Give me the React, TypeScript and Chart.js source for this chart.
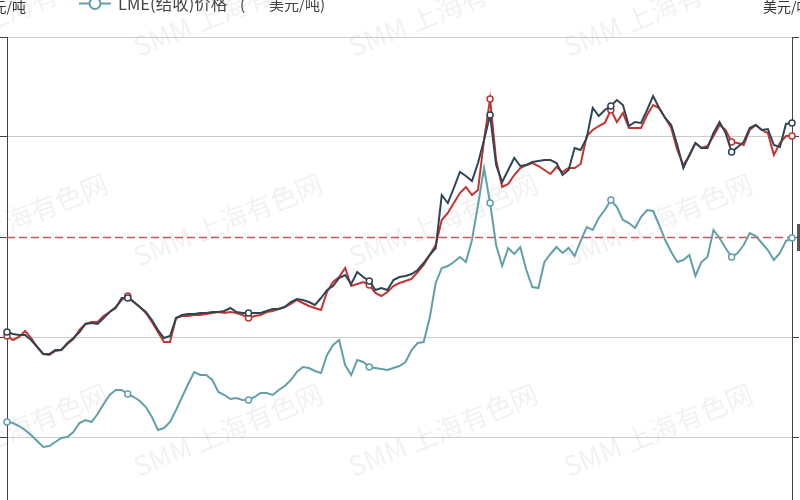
import React, { useEffect, useRef } from 'react';
import { Chart, registerables } from 'chart.js';

Chart.register(...registerables);

// ---- data ----
const CATEGORIES: string[] = Array.from({ length: 131 }, (_, i) => `W${i + 1}`);

// SHFE price (元/吨) - red
const SHFE_PRICE = [
  30100, 29700, 30000, 30600, 29900, 29000, 28300, 28200, 28600, 28700,
  29300, 29800, 30700, 31300, 31500, 31500, 32100, 32500, 33000, 33700,
  34100, 33500, 33000, 32400, 31500, 30500, 29500, 29500, 31900, 32100,
  32100, 32200, 32200, 32300, 32400, 32500, 32400, 32500, 32400, 32200,
  31900, 32100, 32200, 32500, 32600, 32800, 33000, 33300, 33700, 33400,
  33100, 32900, 32700, 34500, 35500, 36000, 36900, 35100, 35300, 35500,
  35200, 34400, 34100, 34500, 35100, 35400, 35600, 35800, 36500, 37200,
  38200, 39200, 41700, 42400, 43400, 44400, 45000, 44200, 44700, 49700,
  53800, 47700, 45000, 45300, 46200, 46900, 47200, 47400, 47100, 46700,
  46300, 47000, 46500, 46900, 46900, 47300, 50100, 50700, 51100, 51400,
  52700, 51500, 52400, 50900, 50900, 50900, 52200, 53200, 52900, 51900,
  50900, 48700, 47200, 48100, 49400, 48900, 49100, 50100, 51200, 50700,
  49500, 49400, 49200, 50700, 51200, 50700, 50400, 48200, 49400, 50100,
  50100,
];

// Spot price (元/吨) - dark
const SPOT_PRICE = [
  30500, 30300, 30200, 30200, 29700, 29000, 28300, 28300, 28700, 28700,
  29400, 29900, 30500, 31300, 31400, 31300, 31900, 32500, 32900, 33900,
  33900, 33500, 33000, 32500, 31700, 30700, 29900, 30100, 31900, 32200,
  32300, 32300, 32400, 32400, 32500, 32500, 32600, 32900, 32500, 32400,
  32400, 32400, 32400, 32600, 32800, 32800, 33000, 33500, 33800, 33700,
  33500, 33200, 33900, 34700, 35100, 35900, 36200, 35300, 36500, 36000,
  35600, 34700, 34900, 34700, 35700, 36000, 36100, 36300, 36700, 37400,
  38200, 38900, 44200, 43400, 44900, 46500, 46100, 45600, 47400, 49700,
  52200, 47200, 45500, 46700, 47900, 47100, 47200, 47500, 47600, 47700,
  47700, 47400, 46200, 46700, 48900, 48700, 49900, 52900, 52100, 52700,
  53100, 53700, 53200, 51100, 51500, 51400, 52700, 54100, 52900, 51900,
  51200, 49200, 46900, 48200, 49400, 48900, 48900, 50400, 51500, 50400,
  48500, 49000, 49500, 50900, 51200, 50700, 50800, 49200, 49000, 51300,
  51400,
];

// LME price (美元/吨) - teal
const LME_PRICE = [
  2150, 2140, 2110, 2070, 2020, 1960, 1900, 1910, 1950, 1990,
  2000, 2050, 2140, 2170, 2150, 2230, 2330, 2420, 2470, 2470,
  2430, 2400, 2360, 2300, 2200, 2070, 2090, 2150, 2270, 2400,
  2530, 2650, 2620, 2620, 2570, 2450, 2420, 2380, 2390, 2370,
  2370, 2400, 2440, 2440, 2420, 2470, 2510, 2570, 2650, 2700,
  2690, 2660, 2640, 2820, 2920, 2970, 2720, 2620, 2770, 2750,
  2700, 2690, 2680, 2670, 2690, 2710, 2750, 2870, 2940, 2950,
  3190, 3540, 3690, 3710, 3750, 3800, 3750, 3970, 4320, 4690,
  4340, 3920, 3710, 3890, 3830, 3900, 3670, 3500, 3490, 3750,
  3830, 3900, 3840, 3890, 3810, 3960, 4100, 4070, 4190, 4270,
  4370, 4300, 4170, 4140, 4090, 4200, 4270, 4260, 4120, 3970,
  3850, 3750, 3770, 3820, 3610, 3750, 3800, 4070, 3990, 3890,
  3800, 3840, 3920, 4040, 4010, 3940, 3870, 3770, 3840, 3960,
  3990,
];

const LEFT_AXIS_TICKS = [10000, 20000, 30000, 40000, 50000, 60000];
const RIGHT_AXIS_TICKS = [1000, 2000, 3000, 4000, 5000, 6000];
const MARK_LINE_VALUE = 40000;

const LEGEND_NAME = 'LME(结收)价格';
const LEGEND_OPEN = '(';
const LEGEND_UNIT = '美元/吨)';
const LEGEND_LABEL = `${LEGEND_NAME} ${LEGEND_OPEN} ${LEGEND_UNIT}`;
const LEFT_AXIS_NAME = '元/吨';
const RIGHT_AXIS_NAME = '美元/吨';
const WATERMARK = 'SMM 上海有色网';

const RED = '#c23531';
const DARK = '#2f4554';
const TEAL = '#61a0a8';
const CJK = '"Noto Sans CJK SC", "Noto Sans", sans-serif';

const decorPlugin = {
  id: 'decor',
  beforeDraw(chart: any) {
    const { ctx, width, height } = chart;
    ctx.save();
    ctx.fillStyle = '#ffffff';
    ctx.fillRect(0, 0, width, height);
    ctx.restore();
  },
  beforeDatasetsDraw(chart: any) {
    const { ctx, chartArea } = chart;
    // watermarks
    ctx.save();
    ctx.font = `27px ${CJK}`;
    ctx.fillStyle = 'rgba(0,0,0,0.055)';
    ctx.textAlign = 'center';
    ctx.textBaseline = 'middle';
    const xs = [13, 228, 443, 658];
    const ys = [10, 220, 430];
    for (const wy of ys) {
      for (const wx of xs) {
        ctx.save();
        ctx.translate(wx, wy);
        ctx.rotate((-22 * Math.PI) / 180);
        ctx.fillText(WATERMARK, 0, 0);
        ctx.restore();
      }
    }
    ctx.restore();
    // mark line
    const y = Math.round(chart.scales.y.getPixelForValue(MARK_LINE_VALUE)) + 0.5;
    ctx.save();
    ctx.strokeStyle = '#c9575a';
    ctx.lineWidth = 1.3;
    ctx.setLineDash([8, 4]);
    ctx.beginPath();
    ctx.moveTo(chartArea.left, y);
    ctx.lineTo(chartArea.right, y);
    ctx.stroke();
    ctx.restore();
  },
  afterDraw(chart: any) {
    const { ctx } = chart;
    ctx.save();
    // axis names
    ctx.fillStyle = '#333';
    ctx.font = `14px ${CJK}`;
    ctx.textBaseline = 'alphabetic';
    ctx.textAlign = 'right';
    ctx.fillText(LEFT_AXIS_NAME, 26, 12);
    ctx.textAlign = 'left';
    ctx.fillText(RIGHT_AXIS_NAME, 763, 12);
    // legend item
    ctx.strokeStyle = TEAL;
    ctx.lineWidth = 2;
    ctx.beginPath();
    ctx.moveTo(79, 3.5);
    ctx.lineTo(111, 3.5);
    ctx.stroke();
    ctx.beginPath();
    ctx.arc(95, 3.5, 5.5, 0, Math.PI * 2);
    ctx.fillStyle = '#fff';
    ctx.fill();
    ctx.stroke();
    ctx.fillStyle = '#444';
    ctx.textAlign = 'left';
    ctx.font = `16.5px ${CJK}`;
    ctx.fillText(LEGEND_NAME, 118, 9.5);
    ctx.font = `15px ${CJK}`;
    ctx.fillText(LEGEND_OPEN, 240, 9.5);
    ctx.fillText(LEGEND_UNIT, 269, 9.5);
    // small dark block at right edge
    ctx.fillStyle = '#555';
    ctx.fillRect(797, 224, 3, 27);
    ctx.restore();
  },
};

const markerRadius = (ctx: any) => {
  const i = ctx.dataIndex;
  return i % 20 === 0 || i === CATEGORIES.length - 1 ? 3 : 0;
};

export default function App() {
  const canvasRef = useRef<HTMLCanvasElement | null>(null);

  useEffect(() => {
    if (!canvasRef.current) return;
    const mk = (label: string, data: number[], color: string, axis: string, order: number) => ({
      label,
      data,
      borderColor: color,
      backgroundColor: color,
      borderWidth: 2,
      tension: 0,
      pointRadius: markerRadius,
      pointBackgroundColor: '#ffffff',
      pointBorderColor: color,
      pointBorderWidth: 1.5,
      yAxisID: axis,
      order,
      clip: false as any,
    });
    const chart = new Chart(canvasRef.current, {
      type: 'line',
      data: {
        labels: CATEGORIES,
        datasets: [
          mk('SHFE价格（元/吨）', SHFE_PRICE, RED, 'y', 3),
          mk('现货价格（元/吨）', SPOT_PRICE, DARK, 'y', 2),
          mk(LEGEND_LABEL, LME_PRICE, TEAL, 'y1', 1),
        ],
      },
      options: {
        animation: false,
        responsive: true,
        maintainAspectRatio: false,
        events: [],
        layout: { padding: { top: 37, bottom: 23, left: 0, right: 1 } },
        plugins: { legend: { display: false }, tooltip: { enabled: false } },
        scales: {
          x: { display: false, offset: false },
          y: {
            position: 'left',
            min: LEFT_AXIS_TICKS[0],
            max: LEFT_AXIS_TICKS[LEFT_AXIS_TICKS.length - 1],
            ticks: { display: false, stepSize: LEFT_AXIS_TICKS[1] - LEFT_AXIS_TICKS[0] },
            grid: {
              color: (c: any) => (c.tick && c.tick.value === MARK_LINE_VALUE ? 'rgba(0,0,0,0)' : '#cccccc'),
              lineWidth: 1,
              drawTicks: true,
              tickLength: 7,
              tickColor: '#444',
            },
            border: { display: true, color: '#444', width: 1 },
          },
          y1: {
            position: 'right',
            min: RIGHT_AXIS_TICKS[0],
            max: RIGHT_AXIS_TICKS[RIGHT_AXIS_TICKS.length - 1],
            ticks: { display: false, stepSize: RIGHT_AXIS_TICKS[1] - RIGHT_AXIS_TICKS[0] },
            grid: { drawOnChartArea: false, drawTicks: true, tickLength: 7, tickColor: '#444' },
            border: { display: true, color: '#444', width: 1 },
          },
        },
      },
      plugins: [decorPlugin],
    });
    return () => chart.destroy();
  }, []);

  return (
    <div style={{ position: 'fixed', left: 0, top: 0, width: 800, height: 500, overflow: 'hidden', background: '#fff' }}>
      <div style={{ position: 'relative', width: 800, height: 560 }}>
        <canvas ref={canvasRef} />
      </div>
    </div>
  );
}
